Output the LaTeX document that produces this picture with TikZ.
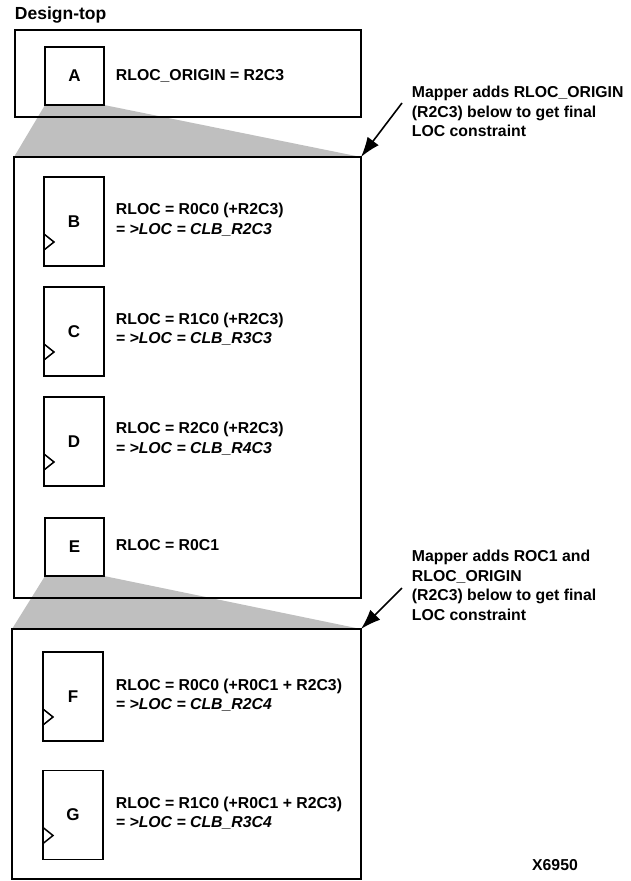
\documentclass[tikz,border=0pt]{standalone}
\usepackage{fontspec}
\setmainfont{Liberation Sans}
\usetikzlibrary{
    calc,
    arrows.meta,
    backgrounds
}
\tikzset{
  every path/.style={
    black,
    line width=1.9pt
  },
  every node/.style={
    inner sep=0pt,
    font=\bfseries\fontsize{15.8}{19.5}\selectfont
  },
  frame/.style={draw,rectangle,outer sep=0pt},
  cell/.style={draw,rectangle,outer sep=0pt,minimum width=60,minimum height=89,
    font=\bfseries\fontsize{17}{20}\selectfont},
  smallcell/.style={cell,minimum width=59,minimum height=58},
  rloc/.style={anchor=west,align=left},
  note/.style={anchor=west,align=left},
  zoomfill/.style={fill=black!25,draw=none},
  pointer/.style={-{Latex[length=20pt,width=14pt]},line width=1.6pt}
}

\begin{document}
\begin{tikzpicture}[x=1pt,y=-1pt]
    \useasboundingbox (0,0) rectangle (631,881);

    % frames
    \node[anchor=base west,font=\bfseries\fontsize{17.5}{20}\selectfont] (title) at (14,19) {Design-top};
    \node[frame,minimum width=346,minimum height=87] (top) at (188,73.5) {};
    \node[frame,minimum width=347,minimum height=441] (mid) at (187.5,377.5) {};
    \node[frame,minimum width=349,minimum height=250] (low) at (186.5,754) {};

    % cells
    \node[smallcell] (A) at (74.5,76) {A};
    \node[cell] (B) at (74,221.5) {B};
    \node[cell] (C) at (74,331.5) {C};
    \node[cell] (D) at (74,441.5) {D};
    \node[smallcell] (E) at (74.5,547) {E};
    \node[cell] (F) at (73,696.5) {F};
    \node[cell] (G) at (73,815) {G};

    % clock marks
    \foreach \n in {B,C,D,F,G}
        \draw[line width=1.5pt] ($(\n.north west)+(0,57)$) -- ++(10,8) -- ++(-10,8);

    % constraints
    \node[rloc] (tA) at (115,76) {RLOC\_ORIGIN = R2C3};
    \node[rloc] (tB) at (115,219.5) {RLOC = R0C0 (+R2C3)\\\itshape = >LOC = CLB\_R2C3};
    \node[rloc] (tC) at (115,329) {RLOC = R1C0 (+R2C3)\\\itshape = >LOC = CLB\_R3C3};
    \node[rloc] (tD) at (115,438.5) {RLOC = R2C0 (+R2C3)\\\itshape = >LOC = CLB\_R4C3};
    \node[rloc] (tE) at (115,545) {RLOC = R0C1};
    \node[rloc] (tF) at (115,695) {RLOC = R0C0 (+R0C1 + R2C3)\\\itshape = >LOC = CLB\_R2C4};
    \node[rloc] (tG) at (115,813) {RLOC = R1C0 (+R0C1 + R2C3)\\\itshape = >LOC = CLB\_R3C4};

    % notes
    \node[note] (n1) at (411,111.5) {Mapper adds RLOC\_ORIGIN\\(R2C3) below to get final\\LOC constraint};
    \node[note] (n2) at (411,585.5) {Mapper adds ROC1 and\\RLOC\_ORIGIN\\(R2C3) below to get final\\LOC constraint};
    \node (fig) at (555,865) {X6950};

    % zoom wedges
    \begin{scope}[on background layer]
        \path[zoomfill] (A.south west) -- (A.south east) -- (mid.north east) -- (mid.north west) -- cycle;
        \path[zoomfill] (E.south west) -- (E.south east) -- (low.north east) -- (low.north west) -- cycle;
    \end{scope}

    % arrows
    \coordinate (p1) at (402,103);
    \coordinate (p2) at (402,588);
    \draw[pointer] (p1) -- (mid.north east);
    \draw[pointer] (p2) -- (low.north east);
\end{tikzpicture}
\end{document}
